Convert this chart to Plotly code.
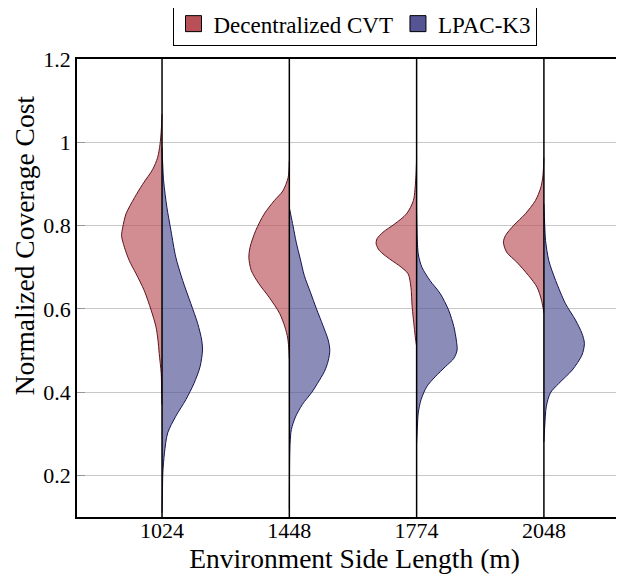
import plotly.graph_objects as go

# categories on the x axis
sizes = ['1024', '1448', '1774', '2048']

# violin profiles: cost level and relative density (1 = widest)
cvt_1024_y = [1.067, 1.027, 0.995, 0.963, 0.935, 0.899, 0.867, 0.828, 0.796, 0.776, 0.748,
              0.716, 0.684, 0.644, 0.597, 0.557, 0.525, 0.493, 0.445, 0.40, 0.37]
cvt_1024_d = [0, 0.02, 0.05, 0.11, 0.23, 0.48, 0.68, 0.89, 0.97, 1.0, 0.93,
              0.81, 0.64, 0.44, 0.27, 0.15, 0.10, 0.07, 0.02, 0.01, 0]
lpac_1024_y = [0.987, 0.907, 0.844, 0.788, 0.724, 0.668, 0.613, 0.565, 0.525, 0.501,
               0.461, 0.421, 0.382, 0.342, 0.302, 0.254, 0.206, 0.159, 0.11]
lpac_1024_d = [0, 0.04, 0.12, 0.22, 0.34, 0.51, 0.71, 0.88, 0.98, 1.0,
               0.94, 0.79, 0.59, 0.34, 0.14, 0.06, 0.02, 0.01, 0]

cvt_1448_y = [0.955, 0.915, 0.883, 0.860, 0.828, 0.788, 0.748, 0.724, 0.692, 0.660,
              0.628, 0.589, 0.557, 0.53, 0.50, 0.48]
cvt_1448_d = [0, 0.03, 0.16, 0.37, 0.62, 0.83, 0.97, 1.0, 0.94, 0.75,
              0.50, 0.24, 0.11, 0.04, 0.01, 0]
lpac_1448_y = [0.843, 0.80, 0.76, 0.72, 0.68, 0.64, 0.60, 0.56, 0.525, 0.50,
               0.475, 0.45, 0.42, 0.40, 0.37, 0.34, 0.31, 0.28, 0.25, 0.12]
lpac_1448_d = [0, 0.09, 0.17, 0.27, 0.37, 0.52, 0.67, 0.83, 0.96, 1.0,
               0.96, 0.87, 0.69, 0.56, 0.32, 0.15, 0.05, 0.02, 0.01, 0]

cvt_1774_y = [0.963, 0.915, 0.860, 0.828, 0.804, 0.784, 0.768, 0.756, 0.740, 0.720,
              0.700, 0.684, 0.652, 0.605, 0.557, 0.53, 0.51]
cvt_1774_d = [0, 0.02, 0.08, 0.25, 0.54, 0.83, 0.98, 1.0, 0.92, 0.67,
              0.38, 0.21, 0.14, 0.11, 0.06, 0.03, 0]
lpac_1774_y = [0.828, 0.732, 0.700, 0.668, 0.637, 0.597, 0.557, 0.525, 0.501, 0.481,
               0.461, 0.437, 0.413, 0.382, 0.350, 0.318, 0.279]
lpac_1774_d = [0, 0.04, 0.13, 0.33, 0.58, 0.79, 0.92, 0.98, 1.0, 0.92,
               0.71, 0.46, 0.25, 0.11, 0.04, 0.02, 0]

cvt_2048_y = [0.963, 0.94, 0.915, 0.89, 0.86, 0.828, 0.80, 0.776, 0.76, 0.736,
              0.712, 0.68, 0.652, 0.621, 0.59]
cvt_2048_d = [0, 0.01, 0.03, 0.08, 0.21, 0.46, 0.75, 0.95, 1.0, 0.92,
              0.67, 0.38, 0.17, 0.06, 0]
lpac_2048_y = [0.852, 0.80, 0.764, 0.716, 0.668, 0.613, 0.573, 0.541, 0.517, 0.489,
               0.453, 0.421, 0.398, 0.366, 0.318, 0.28]
lpac_2048_d = [0, 0.02, 0.04, 0.12, 0.29, 0.53, 0.78, 0.94, 1.0, 0.94,
               0.70, 0.37, 0.16, 0.06, 0.02, 0]

y_ticks = [0.2, 0.4, 0.6, 0.8, 1.0, 1.2]
y_ticktext = ['0.2', '0.4', '0.6', '0.8', '1', '1.2']

cvt_profiles = [(cvt_1024_y, cvt_1024_d), (cvt_1448_y, cvt_1448_d),
                (cvt_1774_y, cvt_1774_d), (cvt_2048_y, cvt_2048_d)]
lpac_profiles = [(lpac_1024_y, lpac_1024_d), (lpac_1448_y, lpac_1448_d),
                 (lpac_1774_y, lpac_1774_d), (lpac_2048_y, lpac_2048_d)]

FONT = '"Liberation Serif", "Times New Roman", Times, serif'
HALF_WIDTH = 0.318   # widest point of a half violin, in category units
RED = 'rgb(185,80,88)'
BLUE = 'rgb(85,85,150)'


def half_violin(pos, ys, dens, side, fill, edge):
    sign = -1 if side == 'left' else 1
    xs = [pos] + [pos + sign * HALF_WIDTH * d for d in dens] + [pos]
    yy = [ys[0]] + ys + [ys[-1]]
    return go.Scatter(x=xs, y=yy, mode='lines', fill='toself', fillcolor=fill,
                      line=dict(color=edge, width=1, shape='spline', smoothing=0.8),
                      showlegend=False, hoverinfo='skip')


fig = go.Figure()
for i, (ys, d) in enumerate(cvt_profiles):
    fig.add_trace(half_violin(i, ys, d, 'left', 'rgba(185,80,88,0.65)', 'rgb(95,20,28)'))
for i, (ys, d) in enumerate(lpac_profiles):
    fig.add_trace(half_violin(i, ys, d, 'right', 'rgba(85,85,150,0.68)', 'rgb(20,20,85)'))

# legend entries
fig.add_trace(go.Scatter(x=[None], y=[None], mode='markers', name='Decentralized CVT',
                         marker=dict(symbol='square', size=19, color=RED,
                                     line=dict(color='black', width=1))))
fig.add_trace(go.Scatter(x=[None], y=[None], mode='markers', name='LPAC-K3',
                         marker=dict(symbol='square', size=19, color=BLUE,
                                     line=dict(color='black', width=1))))

# black vertical line through each violin
for i in range(len(sizes)):
    fig.add_shape(type='line', xref='x', yref='paper', x0=i, x1=i, y0=0, y1=1,
                  line=dict(color='black', width=1.5), layer='above')

# y label sits a bit above the middle of the axis, as in the original
fig.add_annotation(text='Normalized Coverage Cost', textangle=-90, showarrow=False,
                   xref='paper', x=-0.094, xanchor='center', yref='y', y=0.752,
                   yanchor='middle', font=dict(size=27.5, family=FONT))

# the page body adds an 8px offset, so margins are set 8px smaller
fig.update_layout(
    width=624, height=577,
    margin=dict(l=69, r=0, t=51, b=68, autoexpand=False),
    plot_bgcolor='white', paper_bgcolor='white',
    font=dict(family=FONT, size=22, color='black'),
    showlegend=True,
    legend=dict(orientation='h', x=0.5, xanchor='center', y=1.028, yanchor='bottom',
                bordercolor='black', borderwidth=1, font=dict(size=23, family=FONT),
                itemwidth=30, tracegroupgap=0),
    xaxis=dict(range=[-0.668, 3.692], tickvals=list(range(len(sizes))), ticktext=sizes,
               showgrid=False, zeroline=False, showline=True, linecolor='black',
               linewidth=1.5, mirror=True, ticks='', automargin=False,
               ticklabelstandoff=-7,
               title=dict(text='Environment Side Length (m)', font=dict(size=27.5),
                          standoff=6)),
    yaxis=dict(range=[0.1, 1.2], tickvals=y_ticks, ticktext=y_ticktext,
               showgrid=True, gridcolor='rgb(200,200,200)', gridwidth=1,
               zeroline=False, showline=True, linecolor='black', linewidth=1.5,
               ticks='inside', ticklen=8, tickcolor='rgb(150,150,150)', automargin=False),
)

fig.write_html('out.html')
